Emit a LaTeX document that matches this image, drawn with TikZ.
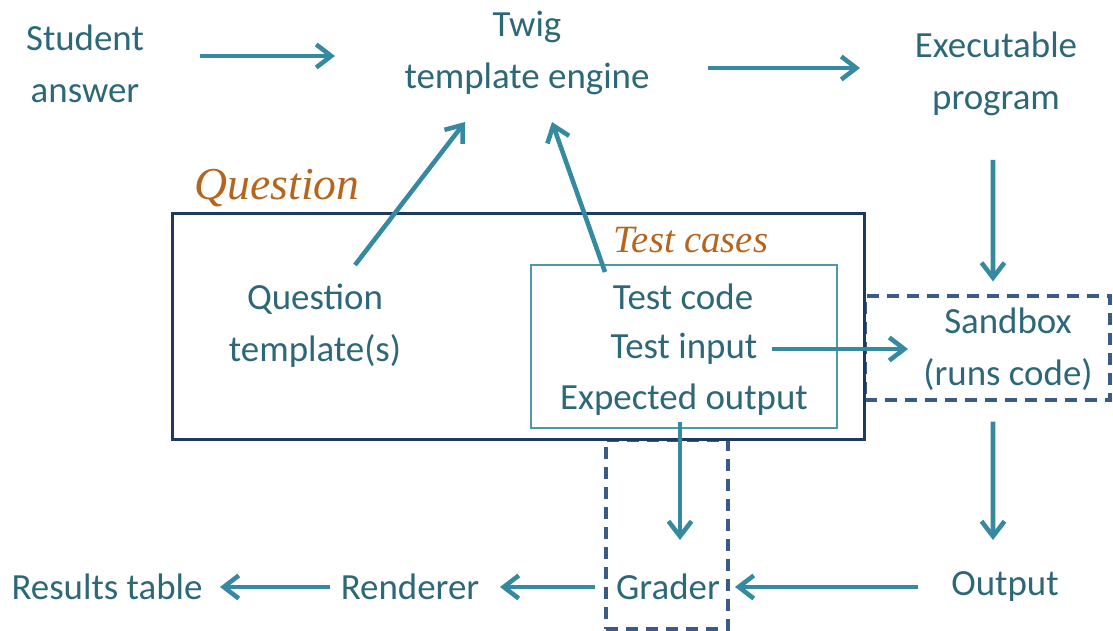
\documentclass[tikz,border=0pt]{standalone}
\usepackage{fontspec}
\setmainfont{Carlito}
\newfontfamily\titlefont{Liberation Serif}
\usetikzlibrary{arrows.meta,calc}
\definecolor{FlowText}{HTML}{2C6878}
\definecolor{FlowArrow}{HTML}{3589A0}
\definecolor{FlowNavy}{HTML}{1F3A60}
\definecolor{FlowDash}{HTML}{3A5A8A}
\definecolor{FlowThin}{HTML}{4A9AAA}
\definecolor{FlowOrange}{HTML}{B5651D}

\begin{document}
\begin{tikzpicture}[x=0.02cm, y=-0.02cm,
  item/.style={inner sep=0pt, align=center, text=FlowText,
               font=\fontsize{21}{29.6}\selectfont},
  title/.style={inner sep=0pt, text=FlowOrange, font=\titlefont\itshape\fontsize{#1}{#1}\selectfont},
  arr/.style={-{Straight Barb[length=0.3cm, width=0.46cm]}, line width=2.6pt, color=FlowArrow},
  dashbox/.style={draw=FlowDash, line width=1.8pt, dash pattern=on 0.24cm off 0.16cm,
                  inner sep=0pt, minimum width=#1}
]
  \useasboundingbox (0,0) rectangle (1113,631);

  % Dashed boxes (behind the question box)
  \node[dashbox=4.9cm, minimum height=2.08cm]  (sbox) at (987.5,348) {};
  \node[dashbox=2.44cm, minimum height=3.78cm] (gbox) at (667,534.5) {};

  % Question and test cases
  \node[draw=FlowNavy, line width=1.7pt, fill=white, inner sep=0pt,
        minimum width=13.86cm, minimum height=4.54cm] (qbox) at (518.5,326.5) {};
  \node[title=26] (qlabel) at (277,188) {Question};
  \node[draw=FlowThin, line width=0.7pt, inner sep=0pt,
        minimum width=6.12cm, minimum height=3.26cm] (tcbox) at (684,346.5) {};
  \node[title=22] (tclabel) at (691,240) {Test cases};

  % Text nodes
  \node[item] (student)   at (85,64)   {Student\\answer};
  \node[item] (twig)      at (527,53)  {Twig\\template engine};
  \node[item] (exec)      at (996,74)  {Executable\\program};
  \node[item] (qtemplate) at (315,326) {Question\\template(s)};
  \node[item] (testcode)  at (683,297) {Test code};
  \node[item] (testinput) at (684,349) {Test input};
  \node[item] (expected)  at (684,400) {Expected output};
  \node[item] (sandbox)   at (1008,349) {Sandbox\\(runs code)};
  \node[item] (output)    at (1005,587) {Output};
  \node[item] (grader)    at (668,587) {Grader};
  \node[item] (renderer)  at (410,587) {Renderer};
  \node[item] (results)   at (107,587) {Results table};

  % Connectors
  \draw[arr] ($(student)+(115,-8)$) -- ($(twig)+(-192,3)$);
  \draw[arr] ($(twig)+(181,15)$) -- ($(exec)+(-136,-6)$);
  \draw[arr] ($(exec)+(-3,86)$) -- ($(sbox.north)+(5.5,-13)$);
  \draw[arr] ($(qtemplate)+(40,-61)$) -- ($(twig)+(-62,69)$);
  \draw[arr] ($(testcode)+(-78,-25)$) -- ($(twig)+(25,69)$);
  \draw[arr] ($(testinput)+(88,0)$) -- ($(sandbox)+(-100,0)$);
  \draw[arr] ($(sbox.south)+(5.5,20)$) -- ($(output)+(-12,-47)$);
  \draw[arr] ($(expected)+(-4,22)$) -- ($(grader)+(12,-47)$);
  \draw[arr] ($(output)+(-87,0)$) -- ($(grader)+(67,0)$);
  \draw[arr] ($(grader)+(-73,0)$) -- ($(renderer)+(90,0)$);
  \draw[arr] ($(renderer)+(-80,0)$) -- ($(results)+(113,0)$);
\end{tikzpicture}
\end{document}
